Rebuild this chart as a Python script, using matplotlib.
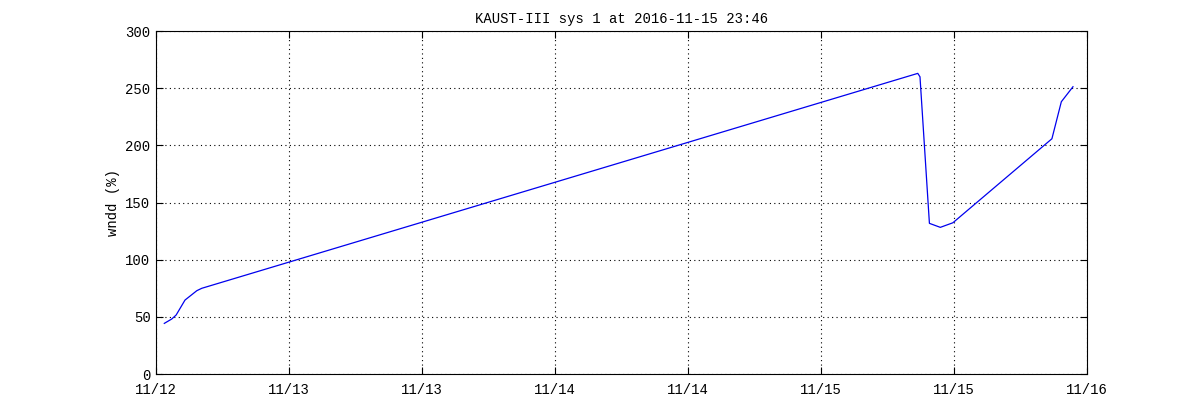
"""Recreate the KAUST-III wndd time series plot."""

import matplotlib

matplotlib.use("Agg")
import matplotlib.dates as mdates
import matplotlib.pyplot as plt
import pandas as pd

TITLE = "KAUST-III sys 1 at 2016-11-15 23:46"
YLABEL = "wndd (%)"

TIMES = [
    "2016-11-12 12:45",
    "2016-11-12 13:25",
    "2016-11-12 13:49",
    "2016-11-12 14:37",
    "2016-11-12 15:41",
    "2016-11-12 16:08",
    "2016-11-15 08:43",
    "2016-11-15 08:55",
    "2016-11-15 09:46",
    "2016-11-15 10:45",
    "2016-11-15 11:53",
    "2016-11-15 20:49",
    "2016-11-15 21:40",
    "2016-11-15 21:54",
    "2016-11-15 22:43",
]
WNDD = [44.3, 48.1, 51.6, 64.7, 72.9, 75.0, 263.0, 260.0, 131.8, 128.3,
        132.3, 205.8, 238.2, 241.1, 251.3]

X_START = "2016-11-12 12:00"
X_END = "2016-11-16 00:00"
Y_TICKS = [0, 50, 100, 150, 200, 250, 300]


def main() -> None:
    plt.rcParams["font.family"] = ["Liberation Mono", "DejaVu Sans Mono"]
    plt.rcParams["font.size"] = 10

    fig = plt.figure(figsize=(12, 4.2), dpi=100)
    ax = fig.add_axes([0.13, 0.1095, 0.776, 0.8165])

    t = pd.to_datetime(TIMES)
    ax.plot(t, WNDD, color="#0000ee", linewidth=0.9)

    ax.set_xlim(pd.Timestamp(X_START), pd.Timestamp(X_END))
    ax.set_ylim(0, 300)
    ax.set_yticks(Y_TICKS)
    ax.xaxis.set_major_locator(mdates.HourLocator(byhour=[0, 12]))
    ax.xaxis.set_major_formatter(mdates.DateFormatter("%m/%d"))

    ax.grid(True, color="black", linestyle=(0, (1, 3)), linewidth=0.8)
    ax.tick_params(direction="in", top=True, right=True, length=5, width=0.8)
    ax.tick_params(axis="x", pad=6.5)
    ax.tick_params(axis="y", pad=4)
    for spine in ax.spines.values():
        spine.set_linewidth(0.8)

    ax.set_ylabel(YLABEL)
    ax.set_title(TITLE, fontsize=10, pad=6)

    fig.savefig("out.png", dpi=100)


if __name__ == "__main__":
    main()
